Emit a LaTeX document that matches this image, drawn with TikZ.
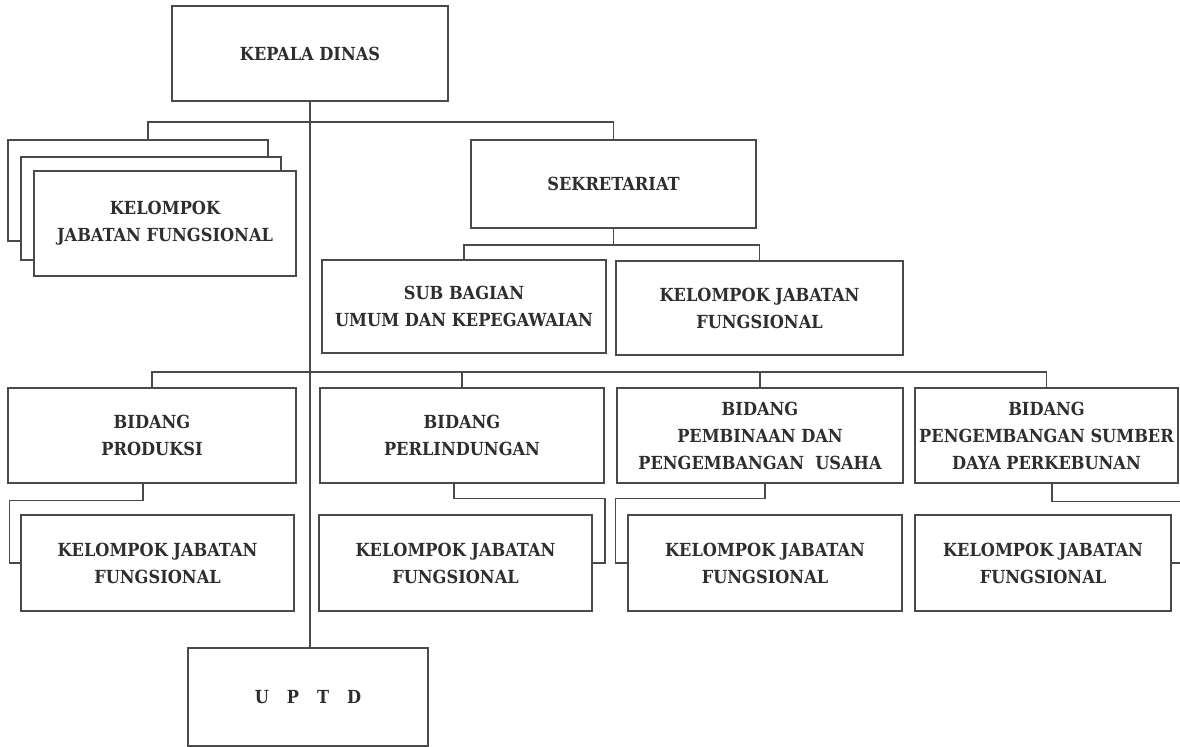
\documentclass[tikz,border=0pt]{standalone}
\usepackage{fontspec}
\setmainfont{DejaVu Serif Condensed}
\definecolor{garis}{HTML}{4A4A4A}
\definecolor{teks}{HTML}{2E2E2E}

\begin{document}
\begin{tikzpicture}[
        x=0.5pt, y=-0.5pt,
        kotak/.style={draw=garis, line width=0.75pt, fill=white, inner sep=0pt, align=center,
          font=\bfseries\fontsize{9}{13.5}\selectfont, text=teks},
        ukuran/.style 2 args={minimum width=#1*0.5pt, minimum height=#2*0.5pt},
        garisorg/.style={draw=garis, line width=0.75pt}
        ]
        \useasboundingbox (0,0) rectangle (1180,747);
        \clip (0,0) rectangle (1180,747);

        \node [kotak, ukuran={276}{95}] (kadis) at (310,53.5) {KEPALA DINAS};
        \node [kotak, ukuran={240}{98}] (uptd) at (308,697) {U\quad P\quad T\quad D};
        \draw [garisorg] (kadis.south) -- (kadis.south |- uptd.north);

        % kelompok jabatan fungsional bertumpuk
        \coordinate (tA) at (148,140);
        \coordinate (busA) at (310,122);
        \draw [garisorg] (tA) |- (busA);
        \node [kotak, ukuran={260}{101}] (kjfA) at (138,190.5) {};
        \node [kotak, ukuran={260}{103}] (kjfB) at (151,208.5) {};
        \node [kotak, ukuran={262}{105}] (kjfC) at (165,223.5) {KELOMPOK\\JABATAN FUNGSIONAL};

        \node [kotak, ukuran={285}{88}] (sekre) at (613.5,184) {SEKRETARIAT};
        \draw [garisorg] (busA) -| (sekre.north);

        \node [kotak, ukuran={284}{93}] (subbag) at (464,306.5) {SUB BAGIAN\\UMUM DAN KEPEGAWAIAN};
        \node [kotak, ukuran={287}{94}] (kjfsek) at (759.5,308) {KELOMPOK JABATAN\\FUNGSIONAL};
        \coordinate (busS) at (613.5,245);
        \draw [garisorg] (sekre.south) -- (busS);
        \draw [garisorg] (subbag.north) |- (busS) -| (kjfsek.north);

        % bidang
        \node [kotak, ukuran={288}{95}] (bid1) at (152,435.5) {BIDANG\\PRODUKSI};
        \node [kotak, ukuran={284}{95}] (bid2) at (462,435.5) {BIDANG\\PERLINDUNGAN};
        \node [kotak, ukuran={286}{95}] (bid3) at (760,435.5) {BIDANG\\PEMBINAAN DAN\\PENGEMBANGAN\ \ USAHA};
        \node [kotak, ukuran={263}{95}] (bid4) at (1046.5,435.5) {BIDANG\\PENGEMBANGAN SUMBER\\DAYA PERKEBUNAN};
        \coordinate (busB) at (310,372);
        \draw [garisorg] (bid1.north) |- (busB) -| (bid4.north);
        \draw [garisorg] (bid2.north) |- (busB);
        \draw [garisorg] (bid3.north) |- (busB);

        \node [kotak, ukuran={273}{96}] (kjf1) at (157.5,563) {KELOMPOK JABATAN\\FUNGSIONAL};
        \node [kotak, ukuran={273}{96}] (kjf2) at (455.5,563) {KELOMPOK JABATAN\\FUNGSIONAL};
        \node [kotak, ukuran={274}{96}] (kjf3) at (765,563) {KELOMPOK JABATAN\\FUNGSIONAL};
        \node [kotak, ukuran={256}{96}] (kjf4) at (1043,563) {KELOMPOK JABATAN\\FUNGSIONAL};

        \draw [garisorg] (bid1.south) ++(-9,0) -- ++(0,17) -| ([xshift=-5.5pt]kjf1.west) -- (kjf1.west);
        \draw [garisorg] (bid2.south) ++(-8,0) -- ++(0,15) -| ([xshift=6pt]kjf2.east) -- (kjf2.east);
        \draw [garisorg] (bid3.south) ++(5,0) -- ++(0,15) -| ([xshift=-6pt]kjf3.west) -- (kjf3.west);
        \draw [garisorg] (bid4.south) ++(5.5,0) -- ++(0,18) -| ([xshift=8pt]kjf4.east) -- (kjf4.east);
    \end{tikzpicture}
\end{document}
